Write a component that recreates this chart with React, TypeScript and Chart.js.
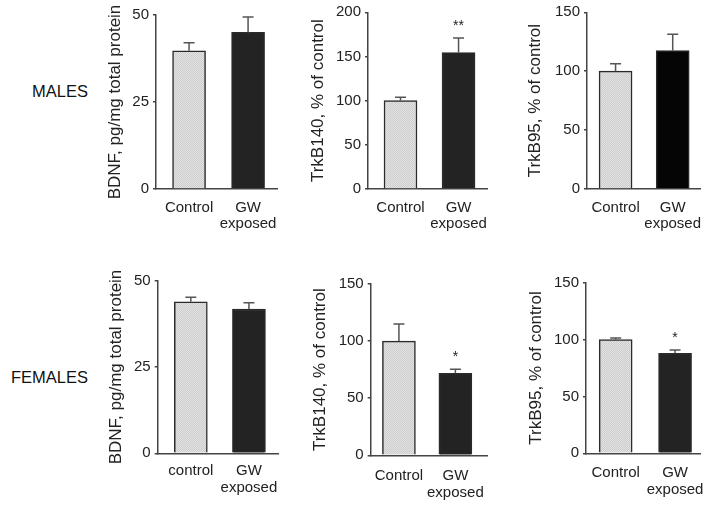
import React, { useEffect, useRef } from "react";
import { Chart, registerables } from "chart.js";

Chart.register(...registerables);

// ---- data ----
const maleCats = [["Control"], ["GW", "exposed"]];
const femaleBdnfCats = [["control"], ["GW", "exposed"]];
const femaleCats = [["Control"], ["GW", "exposed"]];

const maleBdnfMean = [39.7, 45.0];
const maleBdnfSem = [2.3, 4.4];
const maleTrkB140Mean = [100, 154.5];
const maleTrkB140Sem = [3.8, 16.5];
const maleTrkB95Mean = [100, 117.4];
const maleTrkB95Sem = [6.3, 13.9];

const femaleBdnfMean = [43.9, 41.8];
const femaleBdnfSem = [1.3, 1.8];
const femaleTrkB140Mean = [100, 71.8];
const femaleTrkB140Sem = [15, 3.5];
const femaleTrkB95Mean = [100, 87.9];
const femaleTrkB95Sem = [1.4, 2.9];

const maleTrkB140Sig = ["", "**"];
const femaleTrkB140Sig = ["", "*"];
const femaleTrkB95Sig = ["", "*"];
const noSig = ["", ""];

const bdnfTitle = "BDNF, pg/mg total protein";
const trkB140Title = "TrkB140, % of control";
const trkB95Title = "TrkB95, % of control";

const FONT = "'Liberation Sans', Arial, Helvetica, sans-serif";

type Panel = {
  left: number; axisX: number; right: number; top: number; bottom: number;
  xMin: number; xMax: number; labelPad: number; yMax: number; yStep: number;
  title: string; cats: string[][]; mean: number[]; sem: number[]; sig: string[];
  gwColor: string;
};

const panels: Panel[] = [
  { left: 105, axisX: 156, right: 277, top: 15, bottom: 189, xMin: 0.44, xMax: 2.49, labelPad: 11, yMax: 50, yStep: 25,
    title: bdnfTitle, cats: maleCats, mean: maleBdnfMean, sem: maleBdnfSem, sig: noSig, gwColor: "#232323" },
  { left: 308, axisX: 368, right: 487, top: 12.3, bottom: 189, xMin: 0.44, xMax: 2.49, labelPad: 11, yMax: 200, yStep: 50,
    title: trkB140Title, cats: maleCats, mean: maleTrkB140Mean, sem: maleTrkB140Sem, sig: maleTrkB140Sig, gwColor: "#232323" },
  { left: 525, axisX: 587, right: 700.7, top: 12.3, bottom: 189, xMin: 0.5, xMax: 2.49, labelPad: 10.5, yMax: 150, yStep: 50,
    title: trkB95Title, cats: maleCats, mean: maleTrkB95Mean, sem: maleTrkB95Sem, sig: noSig, gwColor: "#050505" },
  { left: 106, axisX: 157.7, right: 278, top: 280.7, bottom: 453.3, xMin: 0.43, xMax: 2.5, labelPad: 10, yMax: 50, yStep: 25,
    title: bdnfTitle, cats: femaleBdnfCats, mean: femaleBdnfMean, sem: femaleBdnfSem, sig: noSig, gwColor: "#232323" },
  { left: 310, axisX: 370.7, right: 487, top: 284, bottom: 455.3, xMin: 0.5, xMax: 2.56, labelPad: 13, yMax: 150, yStep: 50,
    title: trkB140Title, cats: femaleCats, mean: femaleTrkB140Mean, sem: femaleTrkB140Sem, sig: femaleTrkB140Sig, gwColor: "#232323" },
  { left: 526, axisX: 586, right: 700, top: 282.7, bottom: 453.3, xMin: 0.5, xMax: 2.42, labelPad: 12, yMax: 150, yStep: 50,
    title: trkB95Title, cats: femaleCats, mean: femaleTrkB95Mean, sem: femaleTrkB95Sem, sig: femaleTrkB95Sig, gwColor: "#232323" },
];

function makePattern(): CanvasPattern | string {
  const c = document.createElement("canvas");
  c.width = 2; c.height = 2;
  const g = c.getContext("2d");
  if (!g) return "#d9d9d9";
  g.fillStyle = "#e2e2e2";
  g.fillRect(0, 0, 2, 2);
  g.fillStyle = "#cdcdcd";
  g.fillRect(0, 0, 1, 1);
  g.fillRect(1, 1, 1, 1);
  return g.createPattern(c, "repeat") || "#d9d9d9";
}

function PanelChart({ p }: { p: Panel }) {
  const ref = useRef<HTMLCanvasElement>(null);
  const cLeft = Math.round(p.left);
  const cTop = Math.round(p.top) - 12;
  const cW = Math.round(p.right) - cLeft + 10;
  const padTop = p.top - cTop;
  const plotH = p.bottom - p.top;
  const cH = Math.ceil(padTop + plotH + 52);
  const xH = cH - padTop - plotH;
  const padRight = cW - (p.right - cLeft);
  const yW = p.axisX - cLeft;

  useEffect(() => {
    if (!ref.current) return;
    const pattern = makePattern();
    const errPlugin = {
      id: "errBars",
      afterDatasetsDraw(chart: any) {
        const ctx = chart.ctx;
        const meta = chart.getDatasetMeta(0);
        const ys = chart.scales.y;
        meta.data.forEach((bar: any, i: number) => {
          const yv = ys.getPixelForValue(p.mean[i]);
          const ye = ys.getPixelForValue(p.mean[i] + p.sem[i]);
          ctx.save();
          ctx.strokeStyle = "#555";
          ctx.lineWidth = 1.5;
          ctx.beginPath();
          ctx.moveTo(bar.x, yv);
          ctx.lineTo(bar.x, ye);
          ctx.moveTo(bar.x - 5.5, ye);
          ctx.lineTo(bar.x + 5.5, ye);
          ctx.stroke();
          if (p.sig[i]) {
            ctx.fillStyle = "#222";
            ctx.font = `14px ${FONT}`;
            ctx.textAlign = "center";
            ctx.textBaseline = "alphabetic";
            ctx.fillText(p.sig[i], bar.x, ye - 16 + 8);
          }
          ctx.restore();
        });
      },
    };
    const chart = new Chart(ref.current, {
      type: "bar",
      data: {
        datasets: [
          {
            data: p.mean.map((v, i) => ({ x: i + 1, y: v })),
            backgroundColor: [pattern as any, p.gwColor],
            borderColor: "#2a2a2a",
            borderWidth: 1.5,
            barThickness: 33,
          },
        ],
      },
      options: {
        responsive: false,
        animation: false,
        events: [],
        layout: { padding: { top: padTop, right: padRight, left: 0, bottom: 0 } },
        plugins: { legend: { display: false }, tooltip: { enabled: false }, title: { display: false } },
        scales: {
          x: {
            type: "linear",
            offset: false,
            min: p.xMin,
            max: p.xMax,
            grid: { display: false, drawTicks: false, offset: false },
            border: { display: true, color: "#444", width: 1.5 },
            afterBuildTicks: (s: any) => { s.ticks = [{ value: 1 }, { value: 2 }]; },
            afterFit: (s: any) => { s.height = xH; s.paddingLeft = 0; s.paddingRight = 0; },
            ticks: {
              autoSkip: false,
              maxRotation: 0,
              padding: p.labelPad,
              color: "#222",
              font: { family: FONT, size: 15, lineHeight: 1.07 },
              callback: (v: any) => p.cats[Math.round(v) - 1],
            },
          },
          y: {
            min: 0,
            max: p.yMax,
            grid: { display: true, drawOnChartArea: false, drawTicks: true, tickLength: 3, color: "#444", lineWidth: 1.5 },
            border: { display: true, color: "#444", width: 1.5 },
            afterFit: (s: any) => { s.width = yW; s.paddingTop = 0; s.paddingBottom = 0; },
            ticks: {
              stepSize: p.yStep,
              padding: 4,
              color: "#222",
              font: { family: FONT, size: 15 },
            },
            title: {
              display: true,
              text: p.title,
              color: "#222",
              padding: 0,
              font: { family: FONT, size: 17, lineHeight: 1.2 },
            },
          },
        },
      },
      plugins: [errPlugin],
    } as any);
    return () => chart.destroy();
  }, []);

  return (
    <canvas
      ref={ref}
      width={cW}
      height={cH}
      style={{ position: "absolute", left: cLeft, top: cTop, width: cW, height: cH }}
    />
  );
}

const rowLabelStyle: React.CSSProperties = {
  position: "absolute",
  right: 711 - 88,
  fontFamily: FONT,
  fontSize: 16.5,
  color: "#111",
  lineHeight: "20px",
  whiteSpace: "nowrap",
};

export default function App() {
  return (
    <div style={{ position: "absolute", left: 0, top: 0, width: 711, height: 506, overflow: "hidden", background: "#fff" }}>
      <div style={{ ...rowLabelStyle, top: 81 }}>MALES</div>
      <div style={{ ...rowLabelStyle, top: 367 }}>FEMALES</div>
      {panels.map((p, i) => (
        <PanelChart key={i} p={p} />
      ))}
    </div>
  );
}
